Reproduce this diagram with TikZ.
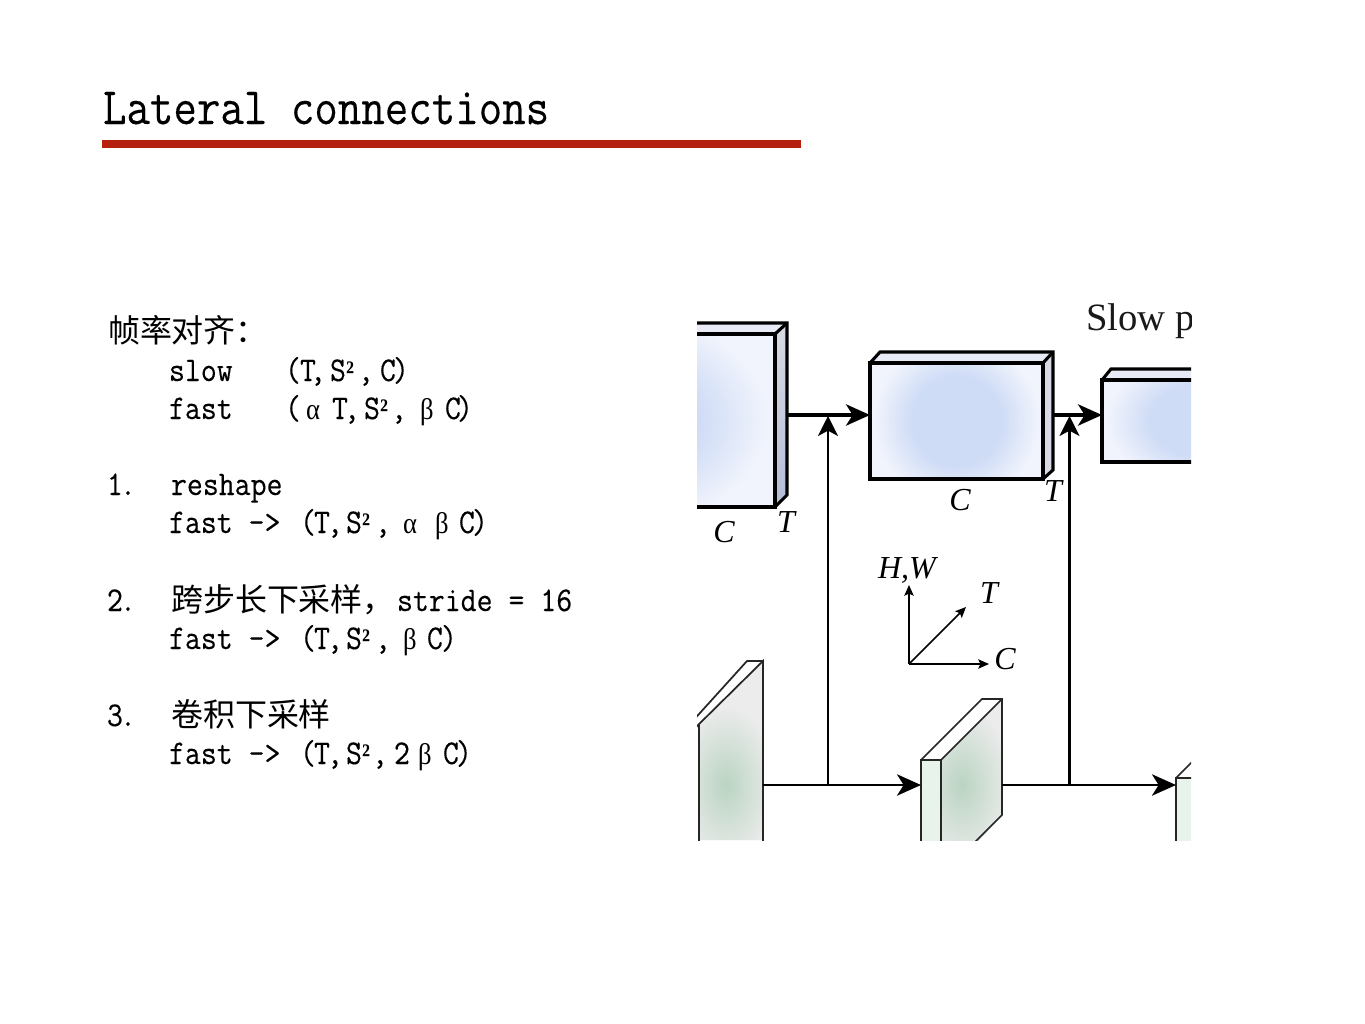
\documentclass[tikz,border=0pt]{standalone}
\usepackage{fontspec}
\usetikzlibrary{arrows.meta}
\setmainfont{Liberation Serif}
\newfontfamily\cjk{Noto Sans CJK SC}
\newfontfamily\grk{Liberation Serif}
\newfontfamily\grkb{Liberation Serif Bold}
\newfontfamily\mono{Latin Modern Mono}[FakeBold=0.25]
\newcommand{\pc}[2]{\makebox[#1\dimexpr0.75pt\relax][l]{#2}}
\newcommand{\al}{{\grk\fontsize{20pt}{20pt}\selectfont α}}
\newcommand{\be}{{\grk\fontsize{20pt}{20pt}\selectfont β}}
\newcommand{\sq}{{\grkb\fontsize{20pt}{20pt}\selectfont ²}}
\newcommand{\tall}[1]{\scalebox{1}[1.12]{#1}}
\definecolor{barred}{HTML}{B5200F}
\definecolor{bluein}{HTML}{CFDCF6}
\definecolor{blueout}{HTML}{F1F4FC}
\definecolor{greenin}{HTML}{BAD4C2}
\definecolor{greenout}{HTML}{ECECEC}
\definecolor{strip}{HTML}{E8F3EC}
\definecolor{sidegrey}{HTML}{D8DBE3}
\definecolor{sideblue}{HTML}{B4BCD9}
\definecolor{topgrey}{HTML}{E8EBF5}
\pgfdeclareradialshading{softblue}{\pgfpoint{0bp}{0bp}}{color(0bp)=(bluein); color(13bp)=(bluein); color(24bp)=(blueout); color(50bp)=(blueout)}
\tikzset{
  txt/.style={anchor=base west,inner sep=0pt,outer sep=0pt,font=\mono\fontsize{23.2pt}{23.2pt}\selectfont},
  cjktxt/.style={anchor=base west,inner sep=0pt,outer sep=0pt,font=\cjk\fontsize{24pt}{24pt}\selectfont},
  axlabel/.style={inner sep=0pt,outer sep=0pt,font=\itshape\fontsize{24pt}{24pt}\selectfont,text=black},
  slab/.style={draw=black,line width=2.3pt,line join=miter},
  fastslab/.style={draw=black!85,line width=1.3pt,line join=miter},
  slowarrow/.style={draw=black,line width=2.4pt,-{Stealth[length=18pt,width=16pt,inset=5pt]}},
  fastarrow/.style={draw=black,line width=2pt,-{Stealth[length=18pt,width=16pt,inset=5pt]}},
  latarrow/.style={draw=black,line width=1.6pt,-{Stealth[length=15pt,width=15pt,inset=4pt]}},
  axis/.style={draw=black,line width=1.2pt,-{Stealth[length=8pt,width=7pt,inset=1.5pt]}},
}
\begin{document}
\begin{tikzpicture}[x=0.75pt,y=-0.75pt]
\useasboundingbox (0,0) rectangle (1365,1024);
% title
\node[txt,font=\mono\fontsize{34.2pt}{34.2pt}\selectfont] (title) at (103,124) {\scalebox{1}[1.15]{Lateral connections}};
\fill[barred] (102,140) rectangle (801,148);
% text
\node[cjktxt] (h0) at (108,342) {帧率对齐：};
\node[txt] (s1) at (169,381) {\tall{slow}};
\node[txt] (s2) at (285,381) {\tall{\pc{15}{(}\pc{10}{T}\pc{20}{,}\pc{16}{S}\pc{12}{\sq}\pc{22}{,}\pc{13}{C})}};
\node[txt] (f1) at (169,419) {\tall{fast}};
\node[txt] (f2) at (285,419) {\tall{\pc{21}{(}\pc{26}{\al}\pc{12}{T}\pc{20}{,}\pc{16}{S}\pc{11}{\sq}\pc{29}{,}\pc{25}{\be}\pc{12}{C})}};
\node[txt] (n1) at (107,495) {\tall{\pc{13}{1}.}};
\node[txt] (r1) at (171,495) {\tall{reshape}};
\node[txt] (r2) at (169,533) {\tall{fast ->}};
\node[txt] (r3) at (300,533) {\tall{\pc{14}{(}\pc{13}{T}\pc{19}{,}\pc{16}{S}\pc{13}{\sq}\pc{28}{,}\pc{32}{\al}\pc{24}{\be}\pc{13}{C})}};
\node[txt] (n2) at (107,611) {\tall{\pc{13}{2}.}};
\node[cjktxt] (c2) at (171,611) {跨步长下采样，};
\node[txt] (c2b) at (397,611) {\tall{stride = 16}};
\node[txt] (d2) at (169,649) {\tall{fast ->}};
\node[txt] (d3) at (300,649) {\tall{\pc{14}{(}\pc{13}{T}\pc{19}{,}\pc{16}{S}\pc{13}{\sq}\pc{28}{,}\pc{24}{\be}\pc{14}{C})}};
\node[txt] (n3) at (107,726) {\tall{\pc{13}{3}.}};
\node[cjktxt] (c3) at (171,726) {卷积下采样};
\node[txt] (e2) at (169,764) {\tall{fast ->}};
\node[txt] (e3) at (300,764) {\tall{\pc{14}{(}\pc{13}{T}\pc{19}{,}\pc{16}{S}\pc{10}{\sq}\pc{22}{,}\pc{24}{2}\pc{25}{\be}\pc{13}{C})}};
% figure, cropped
\begin{scope}
\clip (697,290) rectangle (1191,840);
% slow block 1
\fill[topgrey] (600,334) -- (612,323) -- (787,323) -- (775,334) -- cycle;
\shade[bottom color=sideblue,top color=sidegrey] (775,334) -- (787,323) -- (787,495) -- (775,507) -- cycle;
\begin{scope}
\clip (600,334) rectangle (775,507);
\shade[shading=softblue] (450,305) rectangle (775,535);
\end{scope}
\draw[slab] (600,334) -- (775,334) -- (775,507) -- (600,507);
\draw[slab] (600,323) -- (787,323) -- (787,495) -- (775,507);
\draw[slab] (775,334) -- (787,323);
% slow block 2
\fill[topgrey] (870,363) -- (880,352) -- (1053,352) -- (1043,363) -- cycle;
\fill[sidegrey] (1043,363) -- (1053,352) -- (1053,470) -- (1043,479) -- cycle;
\begin{scope}
\clip (870,363) rectangle (1043,479);
\shade[shading=softblue] (870,335) rectangle (1043,507);
\end{scope}
\draw[slab] (870,363) rectangle (1043,479);
\draw[slab] (870,363) -- (880,352) -- (1053,352) -- (1053,470) -- (1043,479);
\draw[slab] (1043,363) -- (1053,352);
% slow block 3
\fill[topgrey] (1102,380) -- (1111,369) -- (1300,369) -- (1290,380) -- cycle;
\begin{scope}
\clip (1102,380) rectangle (1300,462);
\shade[shading=softblue] (1102,350) rectangle (1300,490);
\end{scope}
\draw[slab] (1102,380) rectangle (1300,462);
\draw[slab] (1102,380) -- (1111,369) -- (1300,369);
% fast slab 1
\begin{scope}
\clip (699,725) -- (763,661) -- (763,840) -- (699,840) -- cycle;
\fill[greenout] (650,650) rectangle (800,850);
\shade[inner color=greenin,outer color=greenout] (676,705) rectangle (776,865);
\end{scope}
\draw[fastslab] (690,733) -- (763,661) -- (763,850);
\draw[fastslab] (699,725) -- (699,850);
\draw[fastslab] (690,724) -- (747,661) -- (763,661);
% fast slab 2
\fill[strip] (921,760) rectangle (941,845);
\begin{scope}
\clip (941,760) -- (1002,699) -- (1002,815) -- (975,845) -- (941,845) -- cycle;
\fill[greenout] (930,690) rectangle (1010,850);
\shade[inner color=greenin,outer color=greenout] (912,705) rectangle (1012,865);
\end{scope}
\draw[fastslab] (921,850) -- (921,760) -- (941,760) -- (941,850);
\draw[fastslab] (921,760) -- (982,699) -- (1002,699) -- (1002,815) -- (972,845);
\draw[fastslab] (941,760) -- (1002,699);
% fast slab 3
\fill[strip] (1176,778) rectangle (1196,845);
\draw[fastslab] (1176,850) -- (1176,778) -- (1196,778);
\draw[fastslab] (1176,778) -- (1196,758);
% connectors
\coordinate (sA) at (787,415);
\coordinate (sB) at (870,415);
\coordinate (sC) at (1053,415);
\coordinate (sD) at (1102,415);
\coordinate (fA) at (763,785);
\coordinate (fB) at (921,785);
\coordinate (fC) at (1002,785);
\coordinate (fD) at (1176,785);
\coordinate (jA) at (828,785);
\coordinate (jB) at (1069.5,785);
\coordinate (uA) at (828,416);
\coordinate (uB) at (1069.5,416);
\draw[slowarrow] (sA) -- (sB);
\draw[slowarrow] (sC) -- (sD);
\draw[fastarrow] (fA) -- (fB);
\draw[fastarrow] (fC) -- (fD);
\draw[latarrow] (jA) -- (uA);
\draw[latarrow] (jB) -- (uB);
% axes
\coordinate (o) at (909,664);
\coordinate (ax) at (989,664);
\coordinate (ay) at (909,585);
\coordinate (az) at (966,607);
\draw[axis] (o) -- (ax);
\draw[axis] (o) -- (ay);
\draw[axis] (o) -- (az);
% labels
\node[axlabel] (lhw) at (907,570) {H,W};
\node[axlabel] (lt0) at (989,593) {T};
\node[axlabel] (lc0) at (1005,659) {C};
\node[axlabel] (lc1) at (724,532) {C};
\node[axlabel] (lt1) at (786,522) {T};
\node[axlabel] (lc2) at (960,500) {C};
\node[axlabel] (lt2) at (1053,491) {T};
\node[anchor=base west,inner sep=0pt,font=\fontsize{29pt}{29pt}\selectfont,text=black!90] (slowp) at (1086,330) {Slow p};
\end{scope}
\end{tikzpicture}
\end{document}
